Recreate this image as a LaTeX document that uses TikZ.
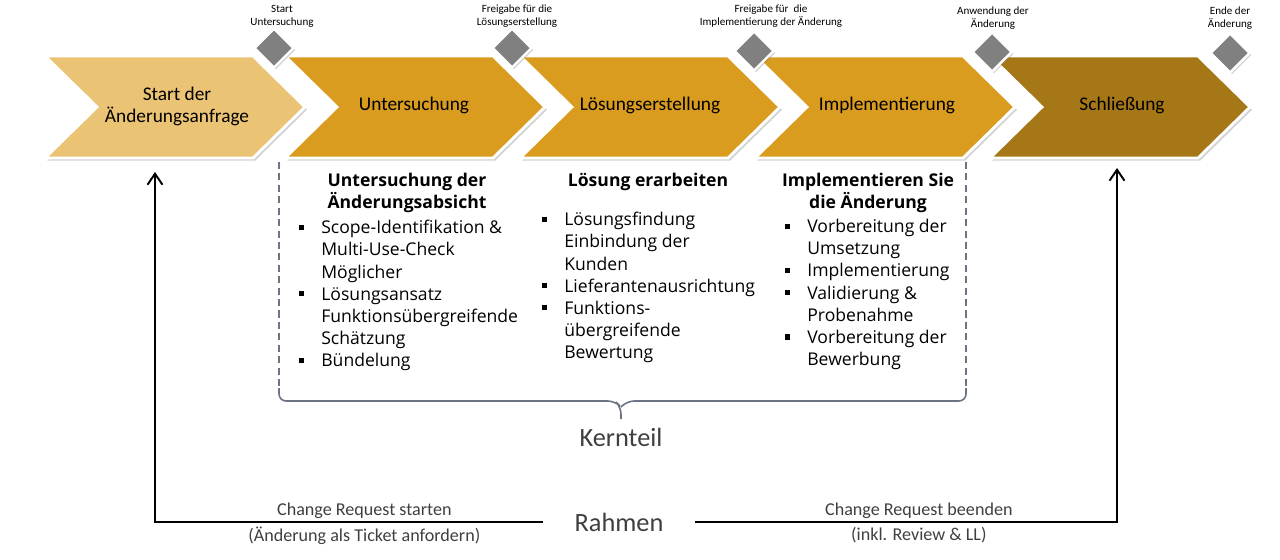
\documentclass[tikz,border=0pt]{standalone}
\usepackage{fontspec}
\setmainfont{Carlito}
\newfontfamily\segoe{Open Sans}
\usetikzlibrary{shapes.geometric,shadows,arrows.meta,positioning}

\definecolor{chevlight}{HTML}{EBC374}
\definecolor{chevmid}{HTML}{D99C1F}
\definecolor{chevdark}{HTML}{A67717}
\definecolor{gategray}{HTML}{808080}
\definecolor{framegray}{HTML}{6B7384}
\definecolor{captiongray}{HTML}{3F3F3F}

\newcommand{\bul}{\makebox[0.5cm][l]{\hspace{1.5pt}\rule[0.22em]{2.9pt}{2.9pt}}}
\newcommand{\ind}{\hspace*{0.5cm}}

\begin{document}
\begin{tikzpicture}[x=0.02cm, y=-0.02cm, >={Straight Barb[length=2.2mm,width=3mm]},
	chevron/.style={draw=white, line width=1.6pt, drop shadow={shadow xshift=1.2pt, shadow yshift=-1.5pt, opacity=0.35}},
	phase/.style={align=center, font=\fontsize{11}{12.5}\selectfont, inner sep=0pt},
	gate/.style={diamond, fill=gategray, draw=white, line width=1.4pt, minimum size=0.8cm, inner sep=0pt, drop shadow={shadow xshift=1pt, shadow yshift=-1pt, opacity=0.35}},
	gatelabel/.style={align=center, font=\fontsize{6.3}{7.3}\selectfont, inner sep=0pt},
	colhead/.style={align=center, font=\segoe\bfseries\fontsize{10}{12.6}\selectfont, inner sep=0pt},
	colbody/.style={align=left, anchor=north west, font=\segoe\fontsize{10}{12.6}\selectfont, inner sep=0pt},
	kernframe/.style={framegray, line width=0.9pt, dashed, dash pattern=on 4pt off 2.5pt},
	brace/.style={framegray, line width=0.9pt, rounded corners=4pt},
	flow/.style={->, line width=1.1pt},
	part/.style={font=\fontsize{15}{17}\selectfont, text=captiongray, inner sep=0pt},
	flowlabel/.style={font=\fontsize{10.3}{12}\selectfont, text=captiongray, inner sep=0pt}]
	\useasboundingbox (0,0) rectangle (1280,559);

	% phases
	\foreach \x/\col in {45/chevlight, 285/chevmid, 520/chevmid, 755/chevmid, 990/chevdark} {
		\filldraw[chevron, fill=\col] (\x,56) -- ++(208,0) -- ++(52,51) -- ++(-52,51) -- ++(-208,0) -- ++(52,-51) -- cycle;
	}
	\node[phase] (p1) at (177,106) {Start der\\Änderungsanfrage};
	\node[phase] (p2) at (414,105) {Untersuchung};
	\node[phase] (p3) at (650,105) {Lösungserstellung};
	\node[phase] (p4) at (887,105) {Implementierung};
	\node[phase] (p5) at (1122,105) {Schließung};

	% gates
	\node[gate] (g1) at (274,48) {};
	\node[gate] (g2) at (512,48) {};
	\node[gate] (g3) at (754,51) {};
	\node[gate] (g4) at (992,52) {};
	\node[gate] (g5) at (1230,53) {};
	\node[gatelabel] (l1) at (282,16) {Start\\Untersuchung};
	\node[gatelabel] (l2) at (517,16) {Freigabe für die\\Lösungserstellung};
	\node[gatelabel] (l3) at (771,16) {Freigabe für \ die\\Implementierung der Änderung};
	\node[gatelabel] (l4) at (993,18) {Anwendung der\\Änderung};
	\node[gatelabel] (l5) at (1230,18) {Ende der\\Änderung};

	% core part
	\node[colhead] (h1) at (407,193) {Untersuchung der\\Änderungsabsicht};
	\node[colhead] (h2) at (648,182) {Lösung erarbeiten};
	\node[colhead] (h3) at (868,193) {Implementieren Sie\\die Änderung};
	\node[colbody] (b1) at (296,220) {\bul Scope-Identifikation \&\\\ind Multi-Use-Check\\\ind Möglicher\\\bul Lösungsansatz\\\ind Funktionsübergreifende\\\ind Schätzung\\\bul Bündelung};
	\node[colbody] (b2) at (539,212) {\bul Lösungsfindung\\\ind Einbindung der\\\ind Kunden\\\bul Lieferantenausrichtung\\\bul Funktions-\\\ind übergreifende\\\ind Bewertung};
	\node[colbody] (b3) at (782,219) {\bul Vorbereitung der\\\ind Umsetzung\\\bul Implementierung\\\bul Validierung \&\\\ind Probenahme\\\bul Vorbereitung der\\\ind Bewerbung};
	\draw[kernframe] (279,162) -- (279,390);
	\draw[kernframe] (966,162) -- (966,390);
	\draw[brace] (279,388) -- (279,401) -- (615,401) -- (621,407) -- (621,419);
	\draw[brace] (966,388) -- (966,401) -- (627,401) -- (621,407);
	\node[part] (kern) at (621,437) {Kernteil};

	% frame
	\node[part, minimum width=3.04cm, minimum height=0.5cm] (rahmen) at (619,522) {Rahmen};
	\coordinate (inStart) at (155,172);
	\coordinate (inClose) at (1117,168);
	\draw[flow] (rahmen.west) -| (inStart)
		node[flowlabel, pos=0.23, above=1.5pt] {Change Request starten}
		node[flowlabel, pos=0.23, below=2.5pt] {(Änderung als Ticket anfordern)};
	\draw[flow] (rahmen.east) -| (inClose)
		node[flowlabel, pos=0.265, above=1.5pt] {Change Request beenden}
		node[flowlabel, pos=0.265, below=2.5pt] {(inkl. Review \& LL)};
\end{tikzpicture}
\end{document}
